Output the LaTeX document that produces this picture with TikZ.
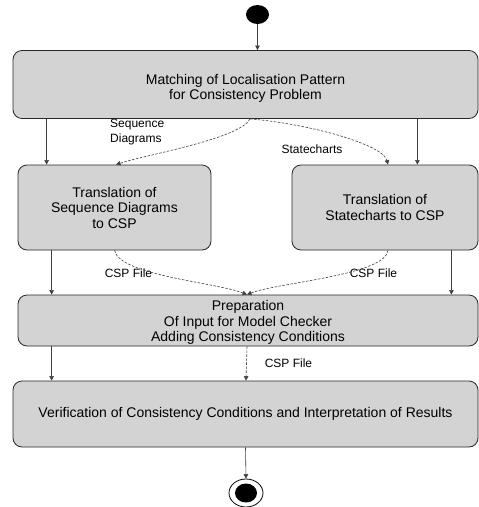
\documentclass[tikz,border=0pt]{standalone}
\usepackage{fontspec}
\setmainfont{Liberation Sans}
\usetikzlibrary{arrows.meta,shapes.geometric}
\definecolor{boxfill}{RGB}{211,211,211}
\definecolor{boxline}{RGB}{40,40,40}
\begin{document}
\begin{tikzpicture}[x=1pt,y=1pt,
  actbox/.style={draw=boxline,line width=0.8pt,fill=boxfill,rounded corners=9pt,
    align=center,inner sep=0pt,font=\fontsize{14}{15.5}\selectfont},
  arr/.style={draw=black!75,line width=0.6pt,-{Triangle[length=4.5pt,width=4.5pt]}},
  darr/.style={arr,dashed,dash pattern=on 2.5pt off 1.5pt},
  lbl/.style={font=\fontsize{12}{15}\selectfont,inner sep=0pt}]
\useasboundingbox (0,0) rectangle (479,-507);
\node[ellipse,fill=black,minimum width=23pt,minimum height=19pt,inner sep=0pt] (start) at (257.5,-14.5) {};
\node[actbox,minimum width=465pt,minimum height=68pt] (b1) at (245.5,-84.5)
  {\rule{0pt}{18pt}Matching of Localisation Pattern\\for Consistency Problem};
\node[actbox,minimum width=193pt,minimum height=85pt] (b2) at (114.5,-207.5)
  {Translation of\\Sequence Diagrams\\to CSP};
\node[actbox,minimum width=186pt,minimum height=85pt] (b3) at (385,-207.5)
  {Translation of\\Statecharts to CSP};
\node[actbox,minimum width=460pt,minimum height=51pt] (b4) at (248,-320.5)
  {\rule{0pt}{14pt}Preparation\\Of Input for Model Checker\\Adding Consistency Conditions};
\node[actbox,minimum width=465pt,minimum height=66pt] (b5) at (245.5,-414)
  {Verification of Consistency Conditions and Interpretation of Results};
\node[ellipse,draw=black,line width=0.8pt,minimum width=34pt,minimum height=28pt,inner sep=0pt] (endo) at (246,-493) {};
\node[ellipse,fill=black,minimum width=22pt,minimum height=19pt,inner sep=0pt] (endi) at (endo.center) {};
% labels
\node[lbl,align=left,anchor=west] (lsd) at (110,-132.5) {Sequence\\Diagrams};
\node[lbl] (lsc) at (312,-149) {Statecharts};
\node[lbl] (lc1) at (128.5,-273) {CSP File};
\node[lbl] (lc2) at (373.5,-273) {CSP File};
\node[lbl] (lc3) at (288.5,-363) {CSP File};
% connectors
\draw[arr] (start) -- (start |- b1.north);
\draw[arr] ([xshift=34pt]b1.south west) -- ([xshift=34pt]b1.south west |- b2.north);
\draw[arr] ([xshift=-61pt]b1.south east) -- ([xshift=-61pt]b1.south east |- b3.north);
\draw[darr] ([xshift=4.5pt]b1.south) .. controls +(-10,-20) and +(30,10) .. ([xshift=1.5pt]b2.north);
\draw[darr] ([xshift=4.5pt]b1.south) .. controls +(60,-5) and +(-5,20) .. ([xshift=3pt]b3.north);
\draw[arr] ([xshift=34pt]b2.south west) -- ([xshift=34pt]b2.south west |- b4.north);
\draw[arr] ([xshift=-27pt]b3.south east) -- ([xshift=-27pt]b3.south east |- b4.north);
\draw[darr] (b2.south) .. controls +(5,-25) and +(-30,12) .. ([xshift=-1pt]b4.north);
\draw[darr] ([xshift=3pt]b3.south) .. controls +(-3,-25) and +(30,12) .. ([xshift=-1pt]b4.north);
\draw[arr] ([xshift=34pt]b4.south west) -- ([xshift=34pt]b4.south west |- b5.north);
\draw[darr] ([xshift=-1pt]b4.south) -- ([xshift=-2pt]b4.south |- b5.north);
\draw[arr] (b5.south) -- (endo.north);
\end{tikzpicture}
\end{document}
